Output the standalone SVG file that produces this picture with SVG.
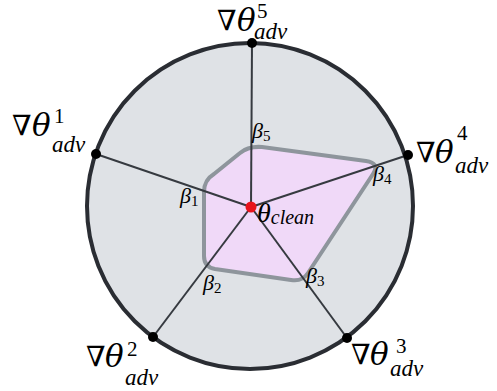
<svg xmlns="http://www.w3.org/2000/svg" width="497" height="391" viewBox="0 0 497 391">
<style>
text{font-family:"Liberation Serif","DejaVu Serif",serif;fill:#000}
.nab{font-family:"DejaVu Serif","DejaVu Sans",serif;font-size:28px;font-style:normal}
.th{font-family:"DejaVu Serif","Liberation Serif",serif;font-size:31px;font-style:italic}
.sup{font-size:21px}
.sub{font-size:23px;font-style:italic}
.beta{font-size:22px;font-style:italic}
.bn{font-size:15px;font-style:normal}
.spoke{stroke:#363a40;stroke-width:2;fill:none}
</style>
<rect width="497" height="391" fill="#fff"/>
<g id="outer">
<circle cx="250" cy="206" r="163" fill="#dfe2e6" stroke="#2a2d33" stroke-width="4"/>
</g>
<g id="region">
<path d="M 262,147 L 366,161 Q 380,163 373,174 L 308,273 Q 302,282 291,280 L 215,269 Q 204,267 204,256 L 204,192 Q 204,180 214,174 L 240,153 Q 248,146 262,147 Z" fill="#f0d9f8" stroke="#8e959c" stroke-width="4" stroke-linejoin="round"/>
</g>
<g id="connectors">
<line class="spoke" x1="251" y1="207" x2="252" y2="43"/>
<line class="spoke" x1="251" y1="207" x2="96" y2="154"/>
<line class="spoke" x1="251" y1="207" x2="408" y2="155"/>
<line class="spoke" x1="251" y1="207" x2="153" y2="337"/>
<line class="spoke" x1="251" y1="207" x2="347" y2="338"/>
</g>
<g id="n5"><circle cx="252" cy="43" r="5" fill="#000"/>
<text><tspan class="nab" x="217" y="30">∇</tspan><tspan class="th" x="237" y="31">θ</tspan><tspan class="sup" x="257" y="18">5</tspan><tspan class="sub" x="254" y="39">adv</tspan></text></g>
<g id="n1"><circle cx="96" cy="154" r="5" fill="#000"/>
<text><tspan class="nab" x="12" y="135">∇</tspan><tspan class="th" x="32" y="136">θ</tspan><tspan class="sup" x="54" y="123">1</tspan><tspan class="sub" x="52" y="152">adv</tspan></text></g>
<g id="n4"><circle cx="408" cy="155" r="5" fill="#000"/>
<text><tspan class="nab" x="416" y="162">∇</tspan><tspan class="th" x="435" y="163">θ</tspan><tspan class="sup" x="457" y="140">4</tspan><tspan class="sub" x="455" y="173">adv</tspan></text></g>
<g id="n2"><circle cx="153" cy="337" r="5" fill="#000"/>
<text><tspan class="nab" x="86" y="366">∇</tspan><tspan class="th" x="105" y="367">θ</tspan><tspan class="sup" x="127" y="356">2</tspan><tspan class="sub" x="125" y="385">adv</tspan></text></g>
<g id="n3"><circle cx="347" cy="338" r="5" fill="#000"/>
<text><tspan class="nab" x="351" y="364">∇</tspan><tspan class="th" x="370" y="365">θ</tspan><tspan class="sup" x="396" y="353">3</tspan><tspan class="sub" x="390" y="376">adv</tspan></text></g>
<g id="center"><circle cx="251" cy="207" r="5.5" fill="#e8141c"/>
<text x="257" y="222" font-size="28" font-style="italic">θ<tspan font-size="20" dy="2">clean</tspan></text></g>
<g id="betas">
<text class="beta" x="252" y="138">β<tspan class="bn" dy="3">5</tspan></text>
<text class="beta" x="180" y="203">β<tspan class="bn" dy="3">1</tspan></text>
<text class="beta" x="373" y="181">β<tspan class="bn" dy="3">4</tspan></text>
<text class="beta" x="203" y="290">β<tspan class="bn" dy="3">2</tspan></text>
<text class="beta" x="306" y="283">β<tspan class="bn" dy="3">3</tspan></text>
</g>
</svg>
